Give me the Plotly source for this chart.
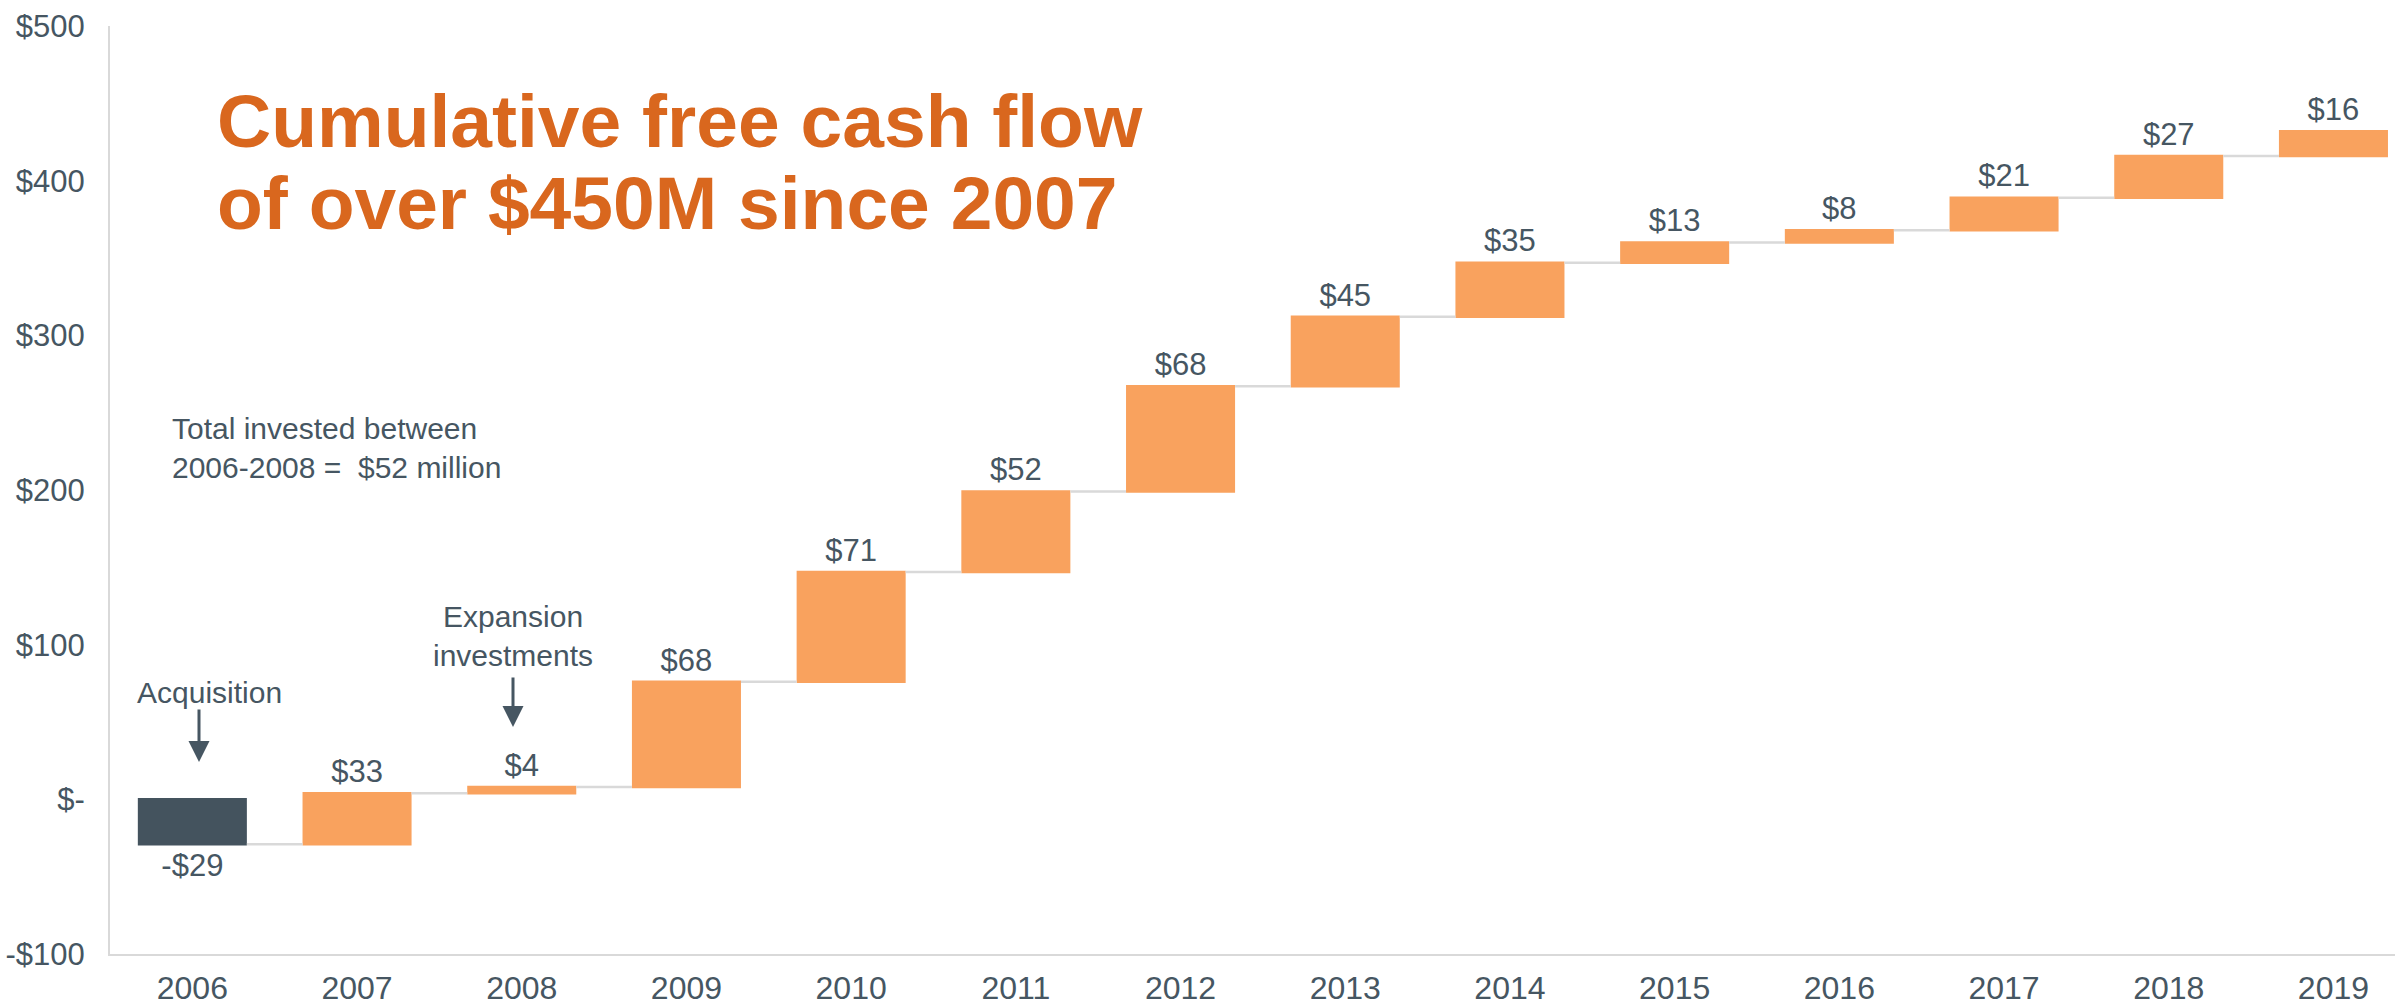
import plotly.graph_objects as go

years = ["2006", "2007", "2008", "2009", "2010", "2011", "2012",
         "2013", "2014", "2015", "2016", "2017", "2018", "2019"]
cash_flow = [-29, 33, 4, 68, 71, 52, 68, 45, 35, 13, 8, 21, 27, 16]
y_tick_vals = [-100, 0, 100, 200, 300, 400, 500]
y_tick_text = ["-$100", "$-", "$100", "$200", "$300", "$400", "$500"]

def fmt(v):
    return f"-${abs(v)}" if v < 0 else f"${v}"

labels = [fmt(v) for v in cash_flow]

TEXT = "#465662"
ORANGE = "#F9A25E"
DARK = "#44535E"
GRID = "#D9D9D9"
FONT = "Liberation Sans, Arial, sans-serif"

fig = go.Figure(go.Waterfall(
    x=years,
    y=cash_flow,
    measure=["relative"] * len(cash_flow),
    text=labels,
    textposition="outside",
    constraintext="none",
    cliponaxis=False,
    textfont=dict(size=31, color=TEXT, family=FONT),
    increasing=dict(marker=dict(color=ORANGE)),
    decreasing=dict(marker=dict(color=DARK)),
    connector=dict(mode="between", line=dict(color=GRID, width=2.5)),
    hoverinfo="skip",
))

W, H = 2395, 1006
ML, MR, MT, MB = 110, 0, 26, 52
PW, PH = W - ML - MR, H - MT - MB
CAT_STEP = 164.7  # pixel spacing between category centres in the reference

def px(x):
    return (x - ML) / PW

def py(y):
    return (H - MB - y) / PH

annotations = [
    dict(x=px(215), y=py(121), xref="paper", yref="paper", xanchor="left", yanchor="middle",
         text="<b>Cumulative free cash flow</b>", showarrow=False,
         font=dict(size=75, color="#D9671E", family=FONT)),
    dict(x=px(215), y=py(203), xref="paper", yref="paper", xanchor="left", yanchor="middle",
         text="<b>of over $450M since 2007</b>", showarrow=False,
         font=dict(size=75, color="#D9671E", family=FONT)),
    dict(x=px(170), y=py(448), xref="paper", yref="paper", xanchor="left", yanchor="middle",
         align="left", text="Total invested between<br>2006-2008 =\u00a0 $52 million", showarrow=False,
         font=dict(size=30, color=TEXT, family=FONT)),
    dict(x=px(209), y=py(692), xref="paper", yref="paper", xanchor="center", yanchor="middle",
         text="Acquisition", showarrow=False,
         font=dict(size=30, color=TEXT, family=FONT)),
    dict(x=px(513), y=py(636), xref="paper", yref="paper", xanchor="center", yanchor="middle",
         align="center", text="Expansion<br>investments", showarrow=False,
         font=dict(size=30, color=TEXT, family=FONT)),
    dict(x=px(199), y=py(762), xref="paper", yref="paper", text="", showarrow=True,
         ax=0, ay=-54, arrowhead=2, arrowsize=1.4, arrowwidth=3, arrowcolor=TEXT),
    dict(x=px(513), y=py(727), xref="paper", yref="paper", text="", showarrow=True,
         ax=0, ay=-51, arrowhead=2, arrowsize=1.4, arrowwidth=3, arrowcolor=TEXT),
]

fig.update_layout(
    width=W, height=H,
    margin=dict(l=ML, r=MR, t=MT, b=MB, pad=0),
    paper_bgcolor="white", plot_bgcolor="white",
    showlegend=False,
    waterfallgap=0.338,
    font=dict(family=FONT, color=TEXT, size=31),
    xaxis=dict(showgrid=False, showline=True, linecolor=GRID, linewidth=2,
               range=[-0.5, -0.5 + PW / CAT_STEP],
               ticks="", tickfont=dict(size=32, color=TEXT), ticklabelstandoff=5,
               zeroline=False),
    yaxis=dict(range=[-100, 500], showgrid=False, showline=True, linecolor=GRID, linewidth=2,
               tickvals=y_tick_vals, ticktext=y_tick_text, ticks="",
               tickfont=dict(size=31, color=TEXT), ticklabelstandoff=17,
               zeroline=False),
    annotations=annotations,
)

fig.write_html("out.html",
               config={"displayModeBar": False},
               post_script="document.body.style.margin='0';document.body.style.overflow='hidden';")
